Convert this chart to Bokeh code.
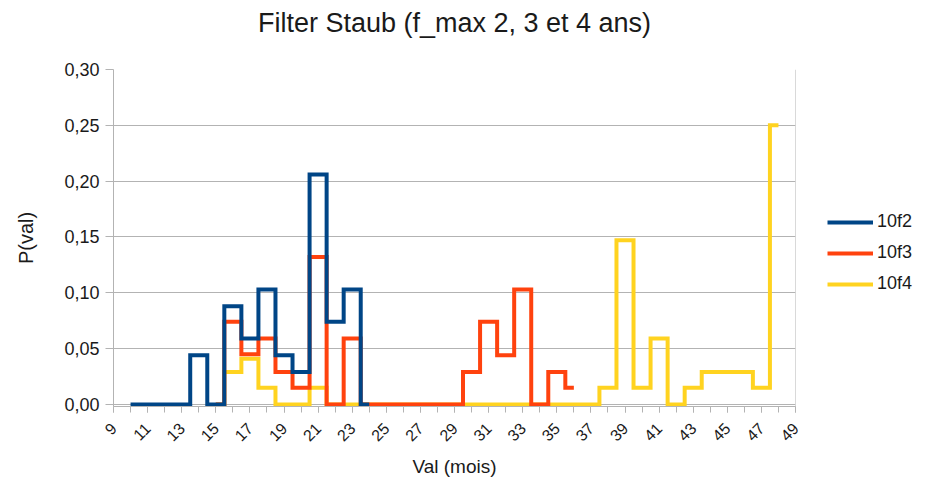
import math
from bokeh.plotting import figure
from bokeh.models import (FixedTicker, CustomJSTickFormatter, Legend, LegendItem,
                          Range1d, Span, Title)
from bokeh.embed import file_html
from bokeh.resources import INLINE

# ---- data ----
x_10f2 = list(range(10, 25))
p_10f2 = [0, 0, 0, 0, 0.044, 0, 0.088, 0.059, 0.103, 0.044, 0.029, 0.206, 0.074, 0.103, 0]

x_10f3 = list(range(15, 37))
p_10f3 = [0, 0.074, 0.045, 0.059, 0.029, 0.015, 0.132, 0, 0.059, 0, 0, 0, 0, 0, 0,
          0.029, 0.074, 0.044, 0.103, 0, 0.029, 0.015]

x_10f4 = list(range(15, 49))
p_10f4 = [0, 0.029, 0.041, 0.015, 0, 0, 0.015, 0, 0, 0, 0, 0, 0, 0, 0, 0, 0, 0, 0, 0,
          0, 0, 0, 0.015, 0.147, 0.015, 0.059, 0, 0.015, 0.029, 0.029, 0.029, 0.015, 0.25]

x_major_ticks = list(range(9, 50, 2))
x_minor_ticks = list(range(9, 50))
y_ticks = [0, 0.05, 0.10, 0.15, 0.20, 0.25, 0.30]

title_text = "Filter Staub (f_max 2, 3 et 4 ans)"
x_title = "Val (mois)"
y_title = "P(val)"
series_names = ["10f2", "10f3", "10f4"]
colors = ["#004586", "#ff420e", "#ffd320"]

FONT = "Liberation Sans"
GRID = "#b3b3b3"
TXT = "#1a1a1a"

p = figure(title=None, frame_width=682, frame_height=337,
           x_range=Range1d(9, 49), y_range=Range1d(-0.0018, 0.30),
           output_backend="svg", toolbar_location=None,
           min_border_left=113, min_border_right=117,
           min_border_top=69, min_border_bottom=71)
p.outline_line_color = None
p.background_fill_color = "white"
p.border_fill_color = "white"

# title: a thin spacer next to the frame, then the real title above it
spacer = Title(text=" ", text_font_size="1px", standoff=20)
p.add_layout(spacer, "above")
main_title = Title(text=title_text, align="center", vertical_align="top",
                   text_font=FONT, text_font_size="27px", text_font_style="normal",
                   text_color=TXT, standoff=14)
p.add_layout(main_title, "above")

# axes
p.xaxis.ticker = FixedTicker(ticks=x_major_ticks, minor_ticks=x_minor_ticks)
p.xaxis.axis_line_color = GRID
p.xaxis.major_tick_line_color = GRID
p.xaxis.minor_tick_line_color = GRID
p.xaxis.major_tick_out = 6
p.xaxis.major_tick_in = 0
p.xaxis.minor_tick_out = 6
p.xaxis.minor_tick_in = 0
p.xaxis.major_label_orientation = math.pi / 4
p.xaxis.major_label_text_font = FONT
p.xaxis.major_label_text_font_size = "16px"
p.xaxis.major_label_text_color = TXT
p.xaxis.major_label_standoff = 13
p.xaxis.axis_label = x_title
p.xaxis.axis_label_text_font = FONT
p.xaxis.axis_label_text_font_size = "19px"
p.xaxis.axis_label_text_font_style = "normal"
p.xaxis.axis_label_text_color = TXT
p.xaxis.axis_label_standoff = 6

p.yaxis.ticker = FixedTicker(ticks=y_ticks)
p.yaxis.formatter = CustomJSTickFormatter(code="return tick.toFixed(2).replace('.', ',');")
p.yaxis.axis_line_color = GRID
p.yaxis.major_tick_line_color = GRID
p.yaxis.minor_tick_line_color = None
p.yaxis.major_tick_out = 8
p.yaxis.major_tick_in = 0
p.yaxis.major_label_text_font = FONT
p.yaxis.major_label_text_font_size = "18px"
p.yaxis.major_label_text_color = TXT
p.yaxis.major_label_standoff = 6
p.yaxis.axis_label = y_title
p.yaxis.axis_label_text_font = FONT
p.yaxis.axis_label_text_font_size = "20px"
p.yaxis.axis_label_text_font_style = "normal"
p.yaxis.axis_label_text_color = TXT
p.yaxis.axis_label_standoff = 24

p.xgrid.grid_line_color = None
p.ygrid.grid_line_color = GRID
p.ygrid.grid_line_width = 1

p.add_layout(Span(location=49, dimension="height", line_color=GRID, line_width=1))

# series (drawn so that 10f2 is on top)
r4 = p.step(x_10f4, p_10f4, mode="center", line_width=4, line_color=colors[2], line_join="miter")
r3 = p.step(x_10f3, p_10f3, mode="center", line_width=4, line_color=colors[1], line_join="miter")
r2 = p.step(x_10f2, p_10f2, mode="center", line_width=4, line_color=colors[0], line_join="miter")

legend = Legend(items=[LegendItem(label=series_names[0], renderers=[r2]),
                       LegendItem(label=series_names[1], renderers=[r3]),
                       LegendItem(label=series_names[2], renderers=[r4])],
                location=(32, 112), padding=0, margin=0, spacing=10,
                glyph_width=46, glyph_height=20, label_height=20, label_standoff=4,
                label_text_font=FONT, label_text_font_size="18px", label_text_color=TXT,
                border_line_alpha=0, background_fill_alpha=0)
p.add_layout(legend, "right")

open("out.html", "w").write(file_html(p, INLINE))
